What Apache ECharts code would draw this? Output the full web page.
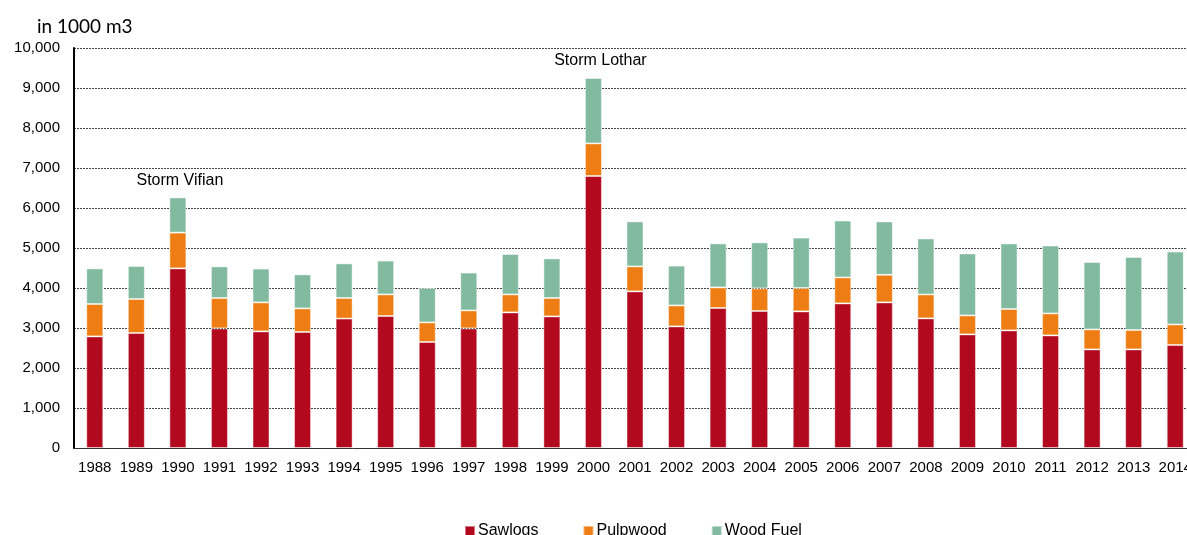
<!DOCTYPE html>
<html>
<head>
<meta charset="utf-8">
<script src="https://cdn.jsdelivr.net/npm/echarts@6/dist/echarts.min.js"></script>
<style>
  html, body { margin: 0; padding: 0; background: #fff; }
  #chart { width: 1187px; height: 535px; }
</style>
</head>
<body>
<div id="chart"></div>
<script>
// Harvest by assortment, in 1000 m3
const years = ['1988','1989','1990','1991','1992','1993','1994','1995','1996','1997','1998','1999','2000',
  '2001','2002','2003','2004','2005','2006','2007','2008','2009','2010','2011','2012','2013','2014'];

const sawlogs  = [2790, 2875, 4490, 2990, 2915, 2900, 3235, 3300, 2650, 2990, 3390, 3290, 6800,
  3915, 3040, 3500, 3425, 3415, 3615, 3640, 3240, 2840, 2940, 2815, 2465, 2465, 2575];
const pulpwood = [810, 850, 895, 760, 725, 590, 515, 540, 490, 450, 450, 460, 815,
  625, 525, 515, 565, 585, 650, 690, 600, 475, 535, 550, 500, 485, 515];
const woodFuel = [890, 825, 880, 790, 845, 850, 865, 845, 860, 945, 1010, 990, 1635,
  1125, 995, 1100, 1150, 1260, 1420, 1335, 1400, 1550, 1640, 1695, 1685, 1825, 1820];

const yTicks = [0, 1000, 2000, 3000, 4000, 5000, 6000, 7000, 8000, 9000, 10000];

// Event notes placed above the stacked totals: [text, horizontal shift]
const notes = { '1990': ['Storm Vifian', 2], '2000': ['Storm Lothar', 7] };

const colors = { saw: '#B2091E', pulp: '#EE7E13', fuel: '#82BAA0' };
const font = '"Liberation Sans", Arial, sans-serif';

const chart = echarts.init(document.getElementById('chart'), null, { renderer: 'canvas' });

const barBase = {
  type: 'bar',
  stack: 'total',
  barWidth: 17,
  itemStyle: { borderColor: 'rgba(255,255,255,0.45)', borderWidth: 1 }
};

chart.setOption({
  animation: false,
  textStyle: { fontFamily: font },
  // the last category band runs a little past the right edge of the canvas
  grid: { left: 74, top: 48, width: 1122, height: 400, containLabel: false, outerBoundsMode: 'none' },
  title: {
    text: 'in 1000 m3',
    left: 32, top: 12,
    textStyle: { fontFamily: 'Lato, "Open Sans", sans-serif', fontSize: 19, fontWeight: 'normal', color: '#000' }
  },
  legend: {
    left: 459, top: 518,
    itemWidth: 10, itemHeight: 10, itemGap: 44,
    icon: 'rect',
    textStyle: { fontFamily: font, fontSize: 16, color: '#000', padding: [0, 0, 0, -2] },
    data: ['Sawlogs', 'Pulpwood', 'Wood Fuel']
  },
  xAxis: {
    type: 'category',
    data: years,
    axisLine: { lineStyle: { color: '#333', width: 1 } },
    axisTick: { show: false },
    axisLabel: { color: '#000', fontSize: 15, fontFamily: font, margin: 12, interval: 0 }
  },
  yAxis: {
    type: 'value',
    min: yTicks[0], max: yTicks[yTicks.length - 1], interval: 1000,
    axisLine: { show: true, lineStyle: { color: '#000', width: 2 } },
    axisTick: { show: false },
    axisLabel: {
      color: '#000', fontSize: 15, fontFamily: font, margin: 14,
      formatter: v => v.toLocaleString('en-US')
    },
    splitLine: { lineStyle: { color: '#444', type: [2, 1], width: 1 } }
  },
  series: [
    Object.assign({}, barBase, { name: 'Sawlogs', data: sawlogs, itemStyle: Object.assign({}, barBase.itemStyle, { color: colors.saw }) }),
    Object.assign({}, barBase, { name: 'Pulpwood', data: pulpwood, itemStyle: Object.assign({}, barBase.itemStyle, { color: colors.pulp }) }),
    Object.assign({}, barBase, {
      name: 'Wood Fuel',
      itemStyle: Object.assign({}, barBase.itemStyle, { color: colors.fuel }),
      data: woodFuel.map((v, i) => {
        const note = notes[years[i]];
        if (!note) return v;
        return {
          value: v,
          label: {
            show: true, position: 'top', distance: 9, offset: [note[1], 0],
            formatter: note[0], color: '#000', fontSize: 16, fontFamily: font
          }
        };
      })
    })
  ]
});
</script>
</body>
</html>
